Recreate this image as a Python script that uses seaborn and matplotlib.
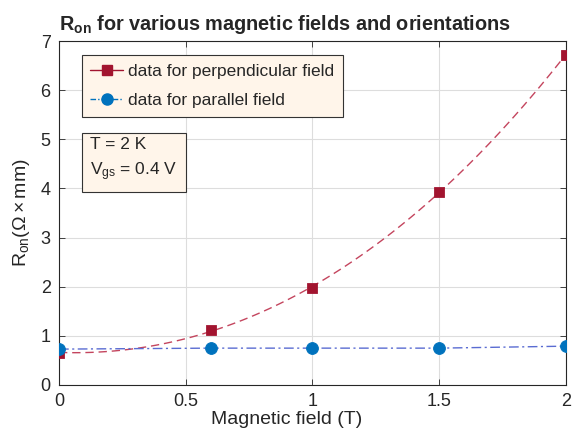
import numpy as np
import pandas as pd
import seaborn as sns
from matplotlib import pyplot as plt

# values
field_perp = [0.0, 0.6, 1.0, 1.5, 2.0]
ron_perp = [0.66, 1.11, 1.98, 3.93, 6.72]
field_par = [0.0, 0.6, 1.0, 1.5, 2.0]
ron_par = [0.73, 0.75, 0.75, 0.75, 0.79]

red = '#A2142F'
blue = '#0072BD'

sns.set_style('ticks')
plt.rcParams['font.family'] = ['Liberation Sans', 'DejaVu Sans']
plt.rcParams['mathtext.fontset'] = 'custom'
plt.rcParams['mathtext.rm'] = 'Liberation Sans'
plt.rcParams['mathtext.it'] = 'Liberation Sans:italic'
plt.rcParams['mathtext.bf'] = 'Liberation Sans:bold'

df_perp = pd.DataFrame({'field': field_perp, 'ron': ron_perp})
df_par = pd.DataFrame({'field': field_par, 'ron': ron_par})

fig = plt.figure(figsize=(5.75, 4.41), dpi=100)
ax = fig.add_axes([0.1026, 0.127, 0.8814, 0.78])

# smooth fit through the perpendicular data (dashed)
sns.regplot(data=df_perp, x='field', y='ron', order=3, ci=None, scatter=False, ax=ax,
            line_kws={'color': '#C4455E', 'linestyle': (0, (6, 3.5)), 'linewidth': 1.0})
sns.lineplot(data=df_par, x='field', y='ron', ax=ax, color='#5A6CD2',
             linestyle=(0, (7, 2.5, 1.5, 2.5)), linewidth=1.0)
sns.scatterplot(data=df_perp, x='field', y='ron', ax=ax, marker='s', s=52,
                color=red, edgecolor=red, zorder=4)
sns.scatterplot(data=df_par, x='field', y='ron', ax=ax, marker='o', s=72,
                color=blue, edgecolor=blue, zorder=5)

# legend proxies
h1, = ax.plot([], [], color=red, linestyle='-', marker='s', markersize=6.5, linewidth=1.0)
h2, = ax.plot([], [], color=blue, linestyle=(0, (4, 1.5, 1, 1.5)), marker='o', markersize=8, linewidth=1.0)
leg = ax.legend([h1, h2], ['data for perpendicular field', 'data for parallel field'],
                loc='upper left', bbox_to_anchor=(0.045, 0.958), fontsize=12.5,
                frameon=True, fancybox=False, handlelength=1.9, handletextpad=0.25,
                borderpad=0.5, labelspacing=0.8, borderaxespad=0)
leg.get_frame().set_facecolor('#FFF5EA')
leg.get_frame().set_edgecolor('#333333')
leg.get_frame().set_linewidth(0.8)
leg.get_frame().set_alpha(1)

ax.text(0.062, 0.722, 'T = 2 K\n' + r'V$_{\mathrm{gs}}$ = 0.4 V', transform=ax.transAxes,
        fontsize=12.5, va='top', ha='left', linespacing=1.6,
        bbox=dict(boxstyle='square,pad=0.5', facecolor='#FFF5EA', edgecolor='#333333', linewidth=0.8))

ax.set_xlim(0, 2)
ax.set_ylim(0, 7)
ax.set_xticks([0, 0.5, 1, 1.5, 2])
ax.set_xticklabels(['0', '0.5', '1', '1.5', '2'])
ax.set_yticks(range(8))
ax.grid(True, color='#DDDDDD', linewidth=0.8)
ax.set_axisbelow(True)
ax.tick_params(direction='in', top=True, right=True, labelsize=13, colors='#262626',
               length=4, width=0.6, pad=6)
for s in ax.spines.values():
    s.set_visible(True)
    s.set_color('#262626')
    s.set_linewidth(0.8)

ax.set_xlabel('Magnetic field (T)', fontsize=14, color='#262626', labelpad=2)
ax.xaxis.set_label_coords(0.45, -0.075)
ax.set_ylabel(r'R$_{\mathrm{on}}$($\Omega\times$mm)', fontsize=14, color='#262626', labelpad=6)
ax.set_title(r'R$_{\mathbf{on}}$ for various magnetic fields and orientations', fontsize=14.3,
             fontweight='bold', pad=8, x=0.445)

fig.savefig('out.png', dpi=100, facecolor='white')
